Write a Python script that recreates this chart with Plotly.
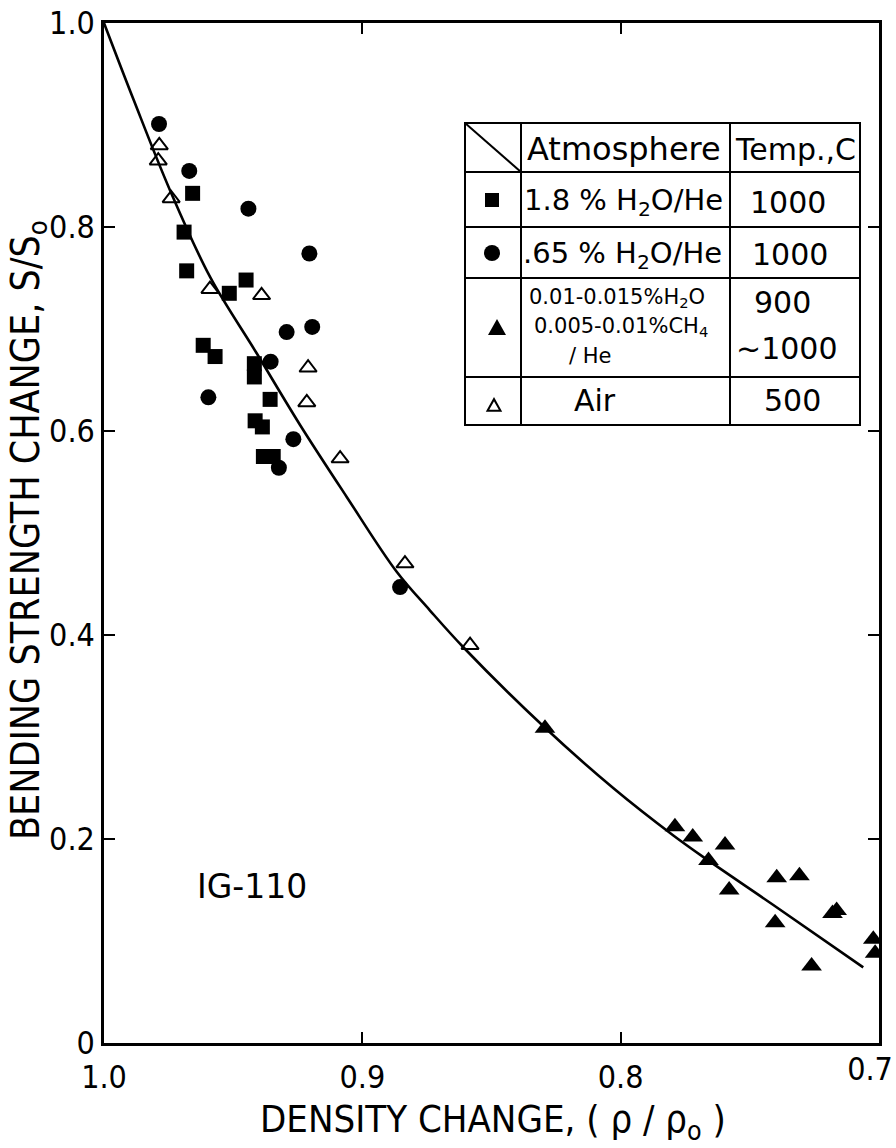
import plotly.graph_objects as go

# ---------------- data ----------------
# 1.8 % H2O/He, 1000 C  (filled squares)
sq_x = [0.9657, 0.969, 0.968, 0.945, 0.9515, 0.9616, 0.957, 0.9418, 0.9418, 0.9357, 0.9415, 0.9387, 0.9383, 0.9345]
sq_y = [0.833, 0.795, 0.757, 0.748, 0.735, 0.684, 0.673, 0.666, 0.653, 0.631, 0.610, 0.604, 0.575, 0.575]

# .65 % H2O/He, 1000 C  (filled circles)
ci_x = [0.9787, 0.967, 0.9441, 0.9205, 0.9293, 0.9194, 0.9355, 0.9596, 0.9267, 0.9323, 0.8854]
ci_y = [0.901, 0.855, 0.818, 0.774, 0.697, 0.702, 0.668, 0.633, 0.592, 0.564, 0.447]

# 0.01-0.015 % H2O, 0.005-0.01 % CH4 / He, 900-1000 C  (filled triangles)
ft_x = [0.8293, 0.779, 0.7721, 0.7596, 0.766, 0.758, 0.7396, 0.7308, 0.7402, 0.7164, 0.718, 0.7261, 0.7022, 0.7015]
ft_y = [0.3085, 0.212, 0.202, 0.194, 0.179, 0.150, 0.162, 0.164, 0.118, 0.130, 0.127, 0.0754, 0.1016, 0.088]

# Air, 500 C  (open triangles)
ot_x = [0.9786, 0.979, 0.974, 0.959, 0.939, 0.921, 0.9215, 0.9086, 0.8835, 0.8583]
ot_y = [0.880, 0.865, 0.828, 0.739, 0.733, 0.662, 0.628, 0.573, 0.470, 0.390]

# hand-drawn fitted curve
curve_x = [1.0, 0.9885, 0.9745, 0.9590, 0.9409, 0.9241, 0.9061, 0.8867, 0.8738, 0.8609,
           0.8299, 0.8029, 0.7796, 0.7661, 0.7409, 0.7061]
curve_y = [1.0, 0.9245, 0.8363, 0.7513, 0.6762, 0.6059, 0.5356, 0.4620, 0.4240, 0.3880,
           0.3105, 0.2500, 0.2035, 0.1790, 0.1353, 0.0742]

x_ticks = [1.0, 0.9, 0.8, 0.7]
x_tick_labels = ["1.0", "0.9", "0.8", "0.7"]
y_ticks = [0, 0.2, 0.4, 0.6, 0.8, 1.0]
y_tick_labels = ["0", "0.2", "0.4", "0.6", "0.8", "1.0"]

# ---------------- layout geometry ----------------
W, H = 896, 1148
L, R, T, B = 104, 17, 23, 105
PW, PH = W - L - R, H - T - B

def px(x):
    return (x - L) / PW

def py(y):
    return (H - B - y) / PH

FONT = "DejaVu Sans Condensed, Liberation Sans Narrow, DejaVu Sans, sans-serif"
FONT2 = "DejaVu Sans, sans-serif"
BLACK = "#000000"

fig = go.Figure()

fig.add_trace(go.Scatter(x=curve_x, y=curve_y, mode="lines",
                         line=dict(color=BLACK, width=2.6, shape="spline", smoothing=1.0),
                         hoverinfo="skip", showlegend=False))
fig.add_trace(go.Scatter(x=sq_x, y=sq_y, mode="markers",
                         marker=dict(symbol="square", size=15, color=BLACK), showlegend=False))
fig.add_trace(go.Scatter(x=ci_x, y=ci_y, mode="markers",
                         marker=dict(symbol="circle", size=16, color=BLACK), showlegend=False))
fig.add_trace(go.Scatter(x=ft_x, y=ft_y, mode="markers",
                         marker=dict(symbol="triangle-up", size=18, color=BLACK), showlegend=False))
fig.add_trace(go.Scatter(x=ot_x, y=ot_y, mode="markers",
                         marker=dict(symbol="triangle-up-open", size=15, color=BLACK,
                                     line=dict(width=2, color=BLACK)), showlegend=False))
# invisible trace so that the helper axis (label of the last x tick) is drawn
fig.add_trace(go.Scatter(x=curve_x, y=curve_y, mode="lines", xaxis="x2", yaxis="y",
                         line=dict(width=0, color="rgba(0,0,0,0)"), hoverinfo="skip", showlegend=False))

TICKFONT = dict(family=FONT, size=32, color=BLACK)
axis_common = dict(showgrid=False, zeroline=False, showline=True, linecolor=BLACK, linewidth=2.5,
                   mirror="ticks", ticks="inside", ticklen=11, tickwidth=2, tickcolor=BLACK,
                   tickfont=TICKFONT)

fig.update_layout(
    xaxis=dict(range=[1.0, 0.7], tickvals=x_ticks, ticktext=x_tick_labels[:-1] + [""],
               ticklabelstandoff=4, **axis_common),
    xaxis2=dict(range=[1.0, 0.7], overlaying="x", anchor="y", side="bottom",
                tickvals=x_ticks[-1:], ticktext=x_tick_labels[-1:], ticklabelshift=9,
                ticklabelstandoff=4, ticklabeloverflow="allow", showgrid=False, zeroline=False,
                showline=False, ticks="", tickfont=TICKFONT),
    yaxis=dict(range=[0, 1.0], tickvals=y_ticks, ticktext=y_tick_labels,
               ticklabelstandoff=0, **axis_common),
)

shapes = []
line = dict(color=BLACK, width=2)
# legend table
tx0, tx1, ty0, ty1 = 465, 860, 123, 425
shapes.append(dict(type="rect", xref="paper", yref="paper", x0=px(tx0), x1=px(tx1),
                   y0=py(ty1), y1=py(ty0), line=line, fillcolor="white", layer="above"))
for xv in [521, 730]:
    shapes.append(dict(type="line", xref="paper", yref="paper", x0=px(xv), x1=px(xv),
                       y0=py(ty1), y1=py(ty0), line=line))
for yv in [172, 227, 278, 377]:
    shapes.append(dict(type="line", xref="paper", yref="paper", x0=px(tx0), x1=px(tx1),
                       y0=py(yv), y1=py(yv), line=line))
shapes.append(dict(type="line", xref="paper", yref="paper", x0=px(tx0), x1=px(521),
                   y0=py(ty0), y1=py(172), line=line))

# legend symbols
def sym_rect(cx, cy, s):
    return dict(type="rect", xref="paper", yref="paper", x0=px(cx - s / 2), x1=px(cx + s / 2),
                y0=py(cy + s / 2), y1=py(cy - s / 2), fillcolor=BLACK, line=dict(width=0))

def sym_circ(cx, cy, s):
    return dict(type="circle", xref="paper", yref="paper", x0=px(cx - s / 2), x1=px(cx + s / 2),
                y0=py(cy + s / 2), y1=py(cy - s / 2), fillcolor=BLACK, line=dict(width=0))

def sym_tri(cx, cy, s, filled):
    h = s * 0.9
    path = "M {} {} L {} {} L {} {} Z".format(px(cx - s / 2), py(cy + h / 2), px(cx + s / 2), py(cy + h / 2),
                                               px(cx), py(cy - h / 2))
    return dict(type="path", xref="paper", yref="paper", path=path,
                fillcolor=BLACK if filled else "white", line=dict(color=BLACK, width=0 if filled else 2))

shapes.append(sym_rect(492, 200, 14))
shapes.append(sym_circ(492, 253, 16))
shapes.append(sym_tri(497, 327, 18, True))
shapes.append(sym_tri(494, 405, 13, False))

annotations = []

def ann(text, x, y, size, family=FONT2, angle=0, xanchor="center"):
    annotations.append(dict(text=text, x=px(x), y=py(y), xref="paper", yref="paper",
                            showarrow=False, xanchor=xanchor, yanchor="middle", textangle=angle,
                            font=dict(family=family, size=size, color=BLACK)))

ann("Atmosphere", 624, 149, 32)
ann("Temp.,C", 795, 149, 30)
ann("1.8 % H<sub>2</sub>O/He", 623, 202, 29)
ann("1000", 788, 202, 30)
ann(".65 % H<sub>2</sub>O/He", 622, 255, 29)
ann("1000", 790, 255, 30)
ann("0.01-0.015%H<sub>2</sub>O", 617, 298, 21)
ann("0.005-0.01%CH<sub>4</sub>", 621, 327, 21)
ann("/ He", 590, 356, 21)
ann("900", 782, 302, 30)
ann("~1000", 786, 348, 30)
ann("Air", 595, 400, 30)
ann("500", 792, 400, 30)

ann("IG-110", 252, 886, 33)
ann("DENSITY CHANGE, ( ρ / ρ<sub>o</sub> )", 493, 1121, 38, family=FONT)
ann("BENDING STRENGTH CHANGE, S/S<sub>o</sub>", 28, 530, 39, family=FONT, angle=-90)

fig.update_layout(width=W, height=H, margin=dict(l=L, r=R, t=T, b=B, autoexpand=False),
                  plot_bgcolor="white", paper_bgcolor="white", showlegend=False,
                  shapes=shapes, annotations=annotations)

fig.write_html("out.html", config={"displayModeBar": False},
               post_script="document.body.style.margin='0';document.body.style.overflow='hidden';")
